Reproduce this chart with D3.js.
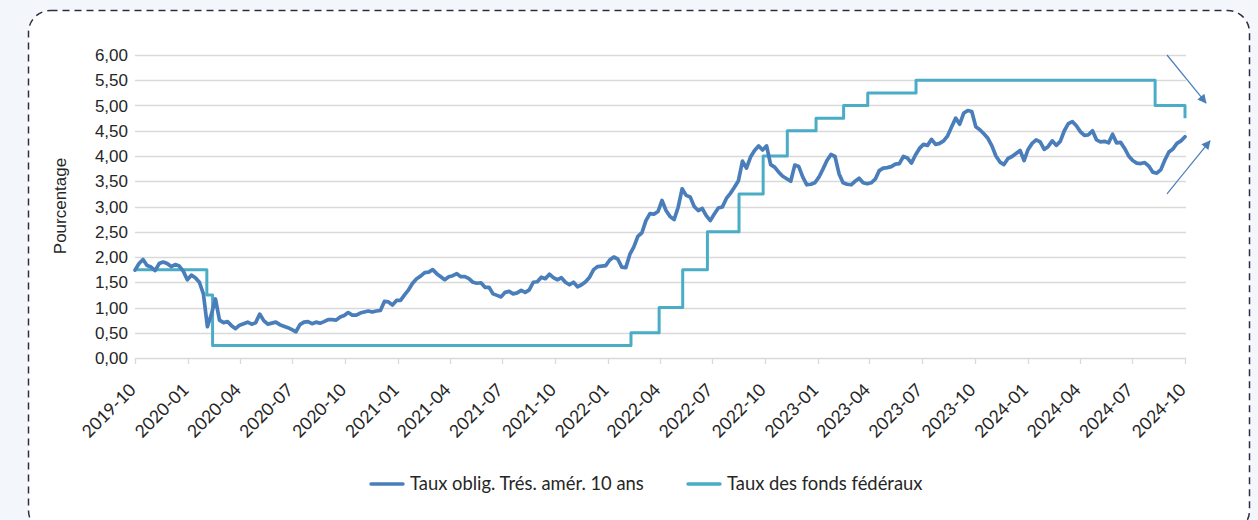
<!DOCTYPE html>
<html>
<head>
<meta charset="utf-8">
<script src="https://d3js.org/d3.v7.min.js"></script>
<style>
  body { margin: 0; padding: 0; background: #f3f6fb; }
  svg { display: block; }
  .ylab { font-family: "Liberation Sans", Arial, sans-serif; font-size: 17px; fill: #262626; }
  .xlab { font-family: Lato, sans-serif; font-size: 17.5px; fill: #262626; }
  .leg  { font-family: Lato, sans-serif; font-size: 18.4px; fill: #262626; }
</style>
</head>
<body>
<div id="my_dataviz"></div>
<script>
// 10-year treasury yield, weekly readings starting 2019-10-01
var t10Start = "2019-10-01";
var t10StepDays = 7;
var t10Values = [
  1.74, 1.87, 1.95, 1.83, 1.80, 1.73, 1.87, 1.90, 1.87, 1.81,
  1.85, 1.82, 1.72, 1.55, 1.64, 1.59, 1.50, 1.27, 0.62, 0.87,
  1.17, 0.75, 0.70, 0.72, 0.64, 0.58, 0.65, 0.68, 0.71, 0.67,
  0.70, 0.87, 0.74, 0.67, 0.69, 0.71, 0.66, 0.63, 0.60, 0.56,
  0.52, 0.66, 0.71, 0.72, 0.68, 0.71, 0.69, 0.72, 0.76, 0.76,
  0.75, 0.81, 0.84, 0.90, 0.85, 0.85, 0.89, 0.91, 0.93, 0.91,
  0.93, 0.94, 1.12, 1.11, 1.05, 1.14, 1.14, 1.25, 1.35, 1.48,
  1.57, 1.62, 1.69, 1.70, 1.75, 1.67, 1.61, 1.55, 1.61, 1.63,
  1.67, 1.61, 1.61, 1.57, 1.50, 1.48, 1.49, 1.40, 1.40, 1.27,
  1.24, 1.21, 1.30, 1.32, 1.27, 1.29, 1.34, 1.30, 1.35, 1.50,
  1.51, 1.60, 1.57, 1.66, 1.59, 1.55, 1.59, 1.50, 1.45, 1.50,
  1.41, 1.45, 1.51, 1.60, 1.75, 1.81, 1.82, 1.83, 1.94, 2.00,
  1.96, 1.80, 1.79, 2.05, 2.20, 2.41, 2.48, 2.72, 2.86, 2.85,
  2.90, 3.12, 2.92, 2.80, 2.74, 2.98, 3.35, 3.22, 3.19, 3.00,
  2.92, 2.96, 2.82, 2.72, 2.85, 2.97, 2.99, 3.16, 3.26, 3.38,
  3.51, 3.90, 3.76, 3.98, 4.11, 4.20, 4.12, 4.20, 3.83, 3.78,
  3.68, 3.60, 3.55, 3.50, 3.82, 3.79, 3.58, 3.43, 3.44, 3.47,
  3.58, 3.74, 3.91, 4.03, 3.99, 3.65, 3.47, 3.44, 3.43, 3.50,
  3.56, 3.47, 3.45, 3.47, 3.54, 3.71, 3.76, 3.77, 3.79, 3.84,
  3.85, 3.99, 3.96, 3.86, 4.02, 4.15, 4.23, 4.21, 4.33, 4.23,
  4.25, 4.30, 4.40, 4.58, 4.75, 4.63, 4.85, 4.90, 4.88, 4.58,
  4.52, 4.44, 4.35, 4.20, 4.00, 3.88, 3.83, 3.95, 3.99, 4.05,
  4.11, 3.91, 4.13, 4.25, 4.32, 4.28, 4.13, 4.19, 4.30, 4.21,
  4.29, 4.50, 4.64, 4.68, 4.60, 4.48, 4.41, 4.42, 4.50, 4.32,
  4.28, 4.29, 4.26, 4.43, 4.26, 4.27, 4.15, 4.00, 3.91, 3.86,
  3.85, 3.87, 3.80, 3.68, 3.66, 3.73, 3.92, 4.08, 4.14, 4.25,
  4.30, 4.38
];

// fed funds rate: date of each change and the new level
var fedDates = ["2019-10-01", "2020-02-03", "2020-02-13", "2022-02-10", "2022-03-31",
                "2022-05-11", "2022-06-23", "2022-08-17", "2022-09-28", "2022-11-09",
                "2022-12-29", "2023-02-15", "2023-03-29", "2023-06-21", "2024-08-10",
                "2024-10-01"];
var fedRates = [1.75, 1.25, 0.25, 0.50, 1.00,
                1.75, 2.50, 3.25, 4.00, 4.50,
                4.75, 5.00, 5.25, 5.50, 5.00,
                4.75];

var yTicks = [0, 0.5, 1, 1.5, 2, 2.5, 3, 3.5, 4, 4.5, 5, 5.5, 6];
var xDomain = ["2019-10-01", "2024-10-01"];
var seriesNames = ["Taux oblig. Trés. amér. 10 ans", "Taux des fonds fédéraux"];
var seriesColors = ["#4a7ebb", "#4bacc6"];

var parse = d3.timeParse("%Y-%m-%d");
var frFmt = d3.formatLocale({ decimal: ",", thousands: " ", grouping: [3], currency: ["", " €"] }).format(".2f");

var W = 1258, H = 520;
var margin = { top: 55, left: 135, right: 73, bottom: 162 };

var svg = d3.select("#my_dataviz")
  .append("svg")
  .attr("width", W)
  .attr("height", H);

// dashed card frame
svg.append("rect")
  .attr("x", 28.5).attr("y", 10.5)
  .attr("width", 1221).attr("height", 522)
  .attr("rx", 22)
  .style("fill", "#ffffff")
  .style("stroke", "#2d2d48")
  .style("stroke-width", 1.5)
  .style("stroke-dasharray", "7,5");

var x = d3.scaleTime()
  .domain(xDomain.map(parse))
  .range([margin.left, W - margin.right]);

var y = d3.scaleLinear()
  .domain([0, 6])
  .range([H - margin.bottom, margin.top]);

// horizontal grid lines
svg.append("g")
  .selectAll("line")
  .data(yTicks)
  .enter()
  .append("line")
  .attr("x1", x.range()[0])
  .attr("x2", x.range()[1] + 1)
  .attr("y1", function (d) { return Math.round(y(d)) + 0.5; })
  .attr("y2", function (d) { return Math.round(y(d)) + 0.5; })
  .style("stroke", "#d9d9d9")
  .style("stroke-width", 1.3);

// y labels
svg.append("g")
  .selectAll("text")
  .data(yTicks)
  .enter()
  .append("text")
  .attr("class", "ylab")
  .attr("x", margin.left - 7)
  .attr("y", function (d) { return y(d); })
  .attr("dy", "0.36em")
  .attr("text-anchor", "end")
  .text(function (d) { return frFmt(d); });

// x tick marks + rotated labels
var xTicks = x.ticks(d3.timeMonth.every(3));
svg.append("g")
  .selectAll("line")
  .data(xTicks)
  .enter()
  .append("line")
  .attr("x1", function (d) { return Math.round(x(d)) + 0.5; })
  .attr("x2", function (d) { return Math.round(x(d)) + 0.5; })
  .attr("y1", y(0))
  .attr("y2", y(0) + 6)
  .style("stroke", "#d9d9d9")
  .style("stroke-width", 1.3);

svg.append("g")
  .selectAll("text")
  .data(xTicks)
  .enter()
  .append("text")
  .attr("class", "xlab")
  .attr("text-anchor", "end")
  .attr("transform", function (d) { return "translate(" + (x(d) + 2) + "," + (y(0) + 33) + ") rotate(-45)"; })
  .text(d3.timeFormat("%Y-%m"));

// axis title
svg.append("text")
  .attr("class", "ylab")
  .attr("text-anchor", "middle")
  .attr("transform", "translate(65.5," + 206 + ") rotate(-90)")
  .text("Pourcentage");

// series
var t0 = parse(t10Start);
var t10 = t10Values.map(function (v, i) { return { date: d3.timeDay.offset(t0, i * t10StepDays), value: v }; });
var fed = fedDates.map(function (d, i) { return { date: parse(d), value: fedRates[i] }; });

svg.append("path")
  .datum(fed)
  .attr("d", d3.line().curve(d3.curveStepAfter)
    .x(function (d) { return x(d.date); })
    .y(function (d) { return y(d.value); }))
  .style("fill", "none")
  .style("stroke", seriesColors[1])
  .style("stroke-width", 3)
  .style("stroke-linejoin", "round");

svg.append("path")
  .datum(t10)
  .attr("d", d3.line()
    .x(function (d) { return x(d.date); })
    .y(function (d) { return y(d.value); }))
  .style("fill", "none")
  .style("stroke", seriesColors[0])
  .style("stroke-width", 3.7)
  .style("stroke-linejoin", "round")
  .style("stroke-linecap", "round");

// annotation arrows at the right end
svg.append("defs").append("marker")
  .attr("id", "head")
  .attr("viewBox", "0 0 10 10")
  .attr("refX", 9).attr("refY", 5)
  .attr("markerWidth", 11).attr("markerHeight", 9)
  .attr("markerUnits", "userSpaceOnUse")
  .attr("orient", "auto")
  .append("path")
  .attr("d", "M0,0 L10,5 L0,10 Z")
  .style("fill", seriesColors[0]);

var xe = x.range()[1];
var arrows = [
  { x1: xe - 18, y1: y(6.0), x2: xe + 21, y2: y(5.05) },
  { x1: xe - 18, y1: y(3.25), x2: xe + 25, y2: y(4.3) }
];
svg.append("g")
  .selectAll("line")
  .data(arrows)
  .enter()
  .append("line")
  .attr("x1", function (d) { return d.x1; })
  .attr("y1", function (d) { return d.y1; })
  .attr("x2", function (d) { return d.x2; })
  .attr("y2", function (d) { return d.y2; })
  .style("stroke", seriesColors[0])
  .style("stroke-width", 1.2)
  .attr("marker-end", "url(#head)");

// legend
var legX = [371, 688];
var leg = svg.append("g")
  .selectAll("g")
  .data(seriesNames)
  .enter()
  .append("g")
  .attr("transform", function (d, i) { return "translate(" + legX[i] + ",484)"; });

leg.append("line")
  .attr("x1", 0).attr("x2", 32)
  .style("stroke", function (d, i) { return seriesColors[i]; })
  .style("stroke-width", 3.4)
  .style("stroke-linecap", "round");

leg.append("text")
  .attr("class", "leg")
  .attr("x", 39)
  .attr("dy", "0.35em")
  .text(function (d) { return d; });
</script>
</body>
</html>
